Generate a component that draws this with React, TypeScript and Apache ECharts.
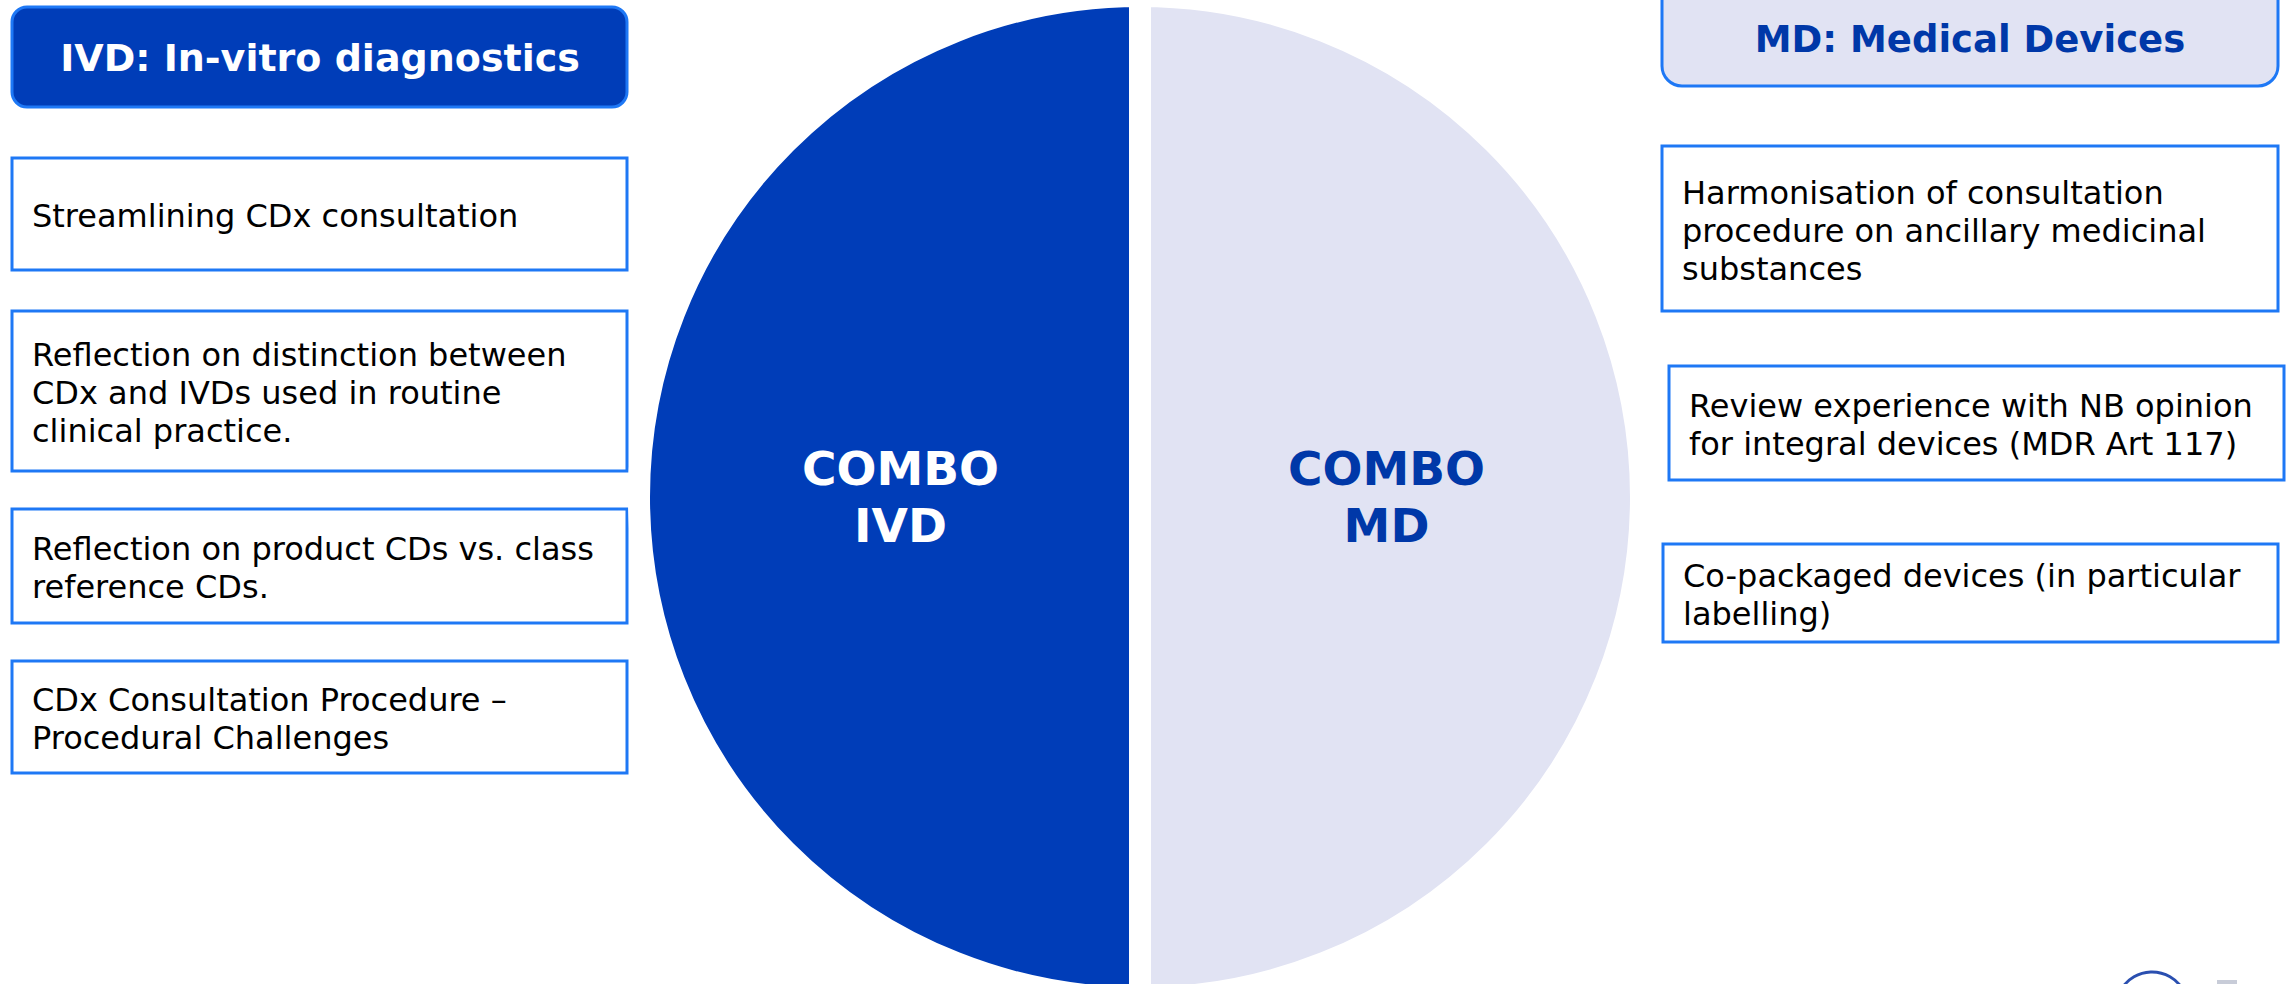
import React, { useEffect, useRef } from "react";
import * as echarts from "echarts";

// ---- data ----
const sliceNames = ["COMBO\nIVD", "COMBO\nMD"];
const sliceValues = [50, 50];
const ivdTitle = "IVD: In-vitro diagnostics";
const mdTitle = "MD: Medical Devices";
const ivdItems = [
  "Streamlining CDx consultation",
  "Reflection on distinction between\nCDx and IVDs used in routine\nclinical practice.",
  "Reflection on product CDs vs. class\nreference CDs.",
  "CDx Consultation Procedure –\nProcedural Challenges",
];
const mdItems = [
  "Harmonisation of consultation\nprocedure on ancillary medicinal\nsubstances",
  "Review experience with NB opinion\nfor integral devices (MDR Art 117)",
  "Co-packaged devices (in particular\nlabelling)",
];

// ---- layout / style ----
const DARK = "#003DB8";
const LIGHT = "#E1E3F3";
const EDGE = "#1E78F5";
const FONT = "DejaVu Sans";
const ivdBoxes = [
  { x: 12, y: 158, w: 615, h: 112 },
  { x: 12, y: 311, w: 615, h: 160 },
  { x: 12, y: 509, w: 615, h: 114 },
  { x: 12, y: 661, w: 615, h: 112 },
];
const mdBoxes = [
  { x: 1662, y: 146, w: 616, h: 165 },
  { x: 1669, y: 366, w: 615, h: 114 },
  { x: 1663, y: 544, w: 615, h: 98 },
];
const labelPads = [
  [0, 0, 8, 28],
  [0, 14, 8, 0],
];

function box(b: { x: number; y: number; w: number; h: number }, text: string) {
  return {
    type: "group",
    children: [
      {
        type: "rect",
        shape: { x: b.x, y: b.y, width: b.w, height: b.h },
        style: { fill: "#ffffff", stroke: EDGE, lineWidth: 3 },
      },
      {
        type: "text",
        style: {
          x: b.x + 20,
          y: b.y + b.h / 2 + 2,
          text,
          font: `32px "${FONT}"`,
          lineHeight: 38,
          fill: "#000000",
          textAlign: "left",
          textVerticalAlign: "middle",
        },
      },
    ],
  };
}

export default function App() {
  const ref = useRef<HTMLDivElement>(null);
  useEffect(() => {
    if (!ref.current) return;
    const chart = echarts.init(ref.current, null, { renderer: "svg" });
    const graphics: any[] = [
      {
        type: "rect",
        shape: { x: 12, y: 7, width: 615, height: 100, r: 15 },
        style: { fill: DARK, stroke: EDGE, lineWidth: 3 },
      },
      {
        type: "text",
        style: {
          x: 320,
          y: 58,
          text: ivdTitle,
          font: `bold 38px "${FONT}"`,
          fill: "#ffffff",
          textAlign: "center",
          textVerticalAlign: "middle",
        },
      },
      {
        type: "rect",
        shape: { x: 1662, y: -40, width: 616, height: 126, r: 20 },
        style: { fill: LIGHT, stroke: EDGE, lineWidth: 3 },
      },
      {
        type: "text",
        style: {
          x: 1970,
          y: 39,
          text: mdTitle,
          font: `bold 37px "${FONT}"`,
          fill: "#0038A8",
          textAlign: "center",
          textVerticalAlign: "middle",
        },
      },
      ...ivdItems.map((t, i) => box(ivdBoxes[i], t)),
      ...mdItems.map((t, i) => box(mdBoxes[i], t)),
      {
        type: "circle",
        shape: { cx: 2152, cy: 1008, r: 36 },
        style: { fill: "none", stroke: "#2A4FB0", lineWidth: 3 },
      },
      {
        type: "rect",
        shape: { x: 2217, y: 980, width: 20, height: 4 },
        style: { fill: "#C8CCD8" },
      },
    ];
    chart.setOption({
      animation: false,
      backgroundColor: "#ffffff",
      series: [
        {
          type: "pie",
          center: [1140, 497],
          radius: [0, 501],
          startAngle: 90,
          clockwise: false,
          silent: true,
          itemStyle: { borderColor: "#ffffff", borderWidth: 22 },
          label: {
            show: true,
            position: "inner",
            fontFamily: FONT,
            fontWeight: "bold",
            fontSize: 47,
            lineHeight: 57,
            formatter: "{b}",
          },
          labelLine: { show: false },
          data: sliceNames.map((n, i) => ({
            name: n,
            value: sliceValues[i],
            itemStyle: { color: i === 0 ? DARK : LIGHT },
            label: { color: i === 0 ? "#ffffff" : "#0038A8", padding: labelPads[i] },
          })),
        },
      ],
      graphic: graphics,
    });
    return () => chart.dispose();
  }, []);
  return (
    <div
      ref={ref}
      style={{ position: "fixed", left: 0, top: 0, width: 2288, height: 984 }}
    />
  );
}
